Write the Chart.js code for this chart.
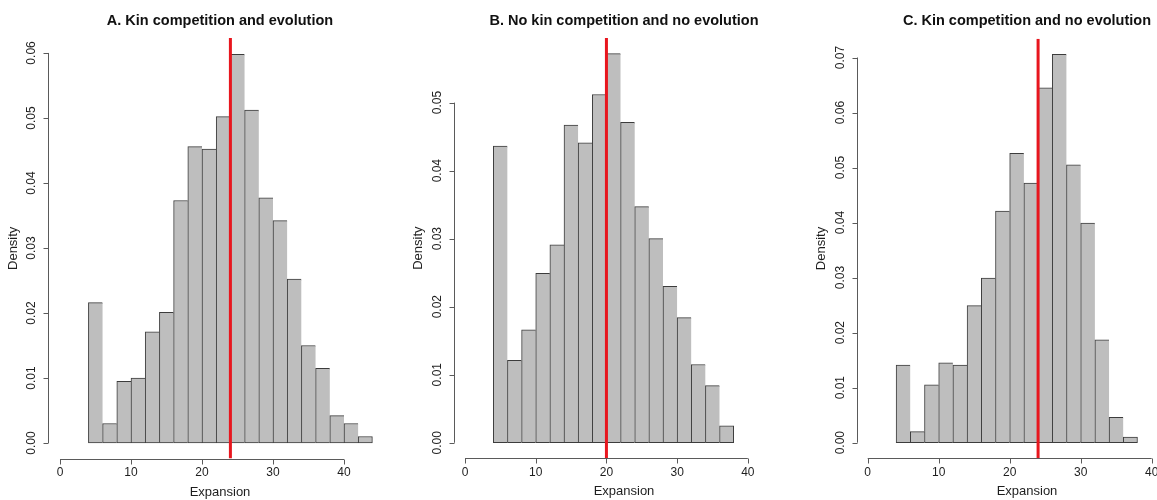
<!DOCTYPE html>
<html>
<head>
<meta charset="utf-8">
<script src="https://cdn.jsdelivr.net/npm/chart.js@4.4.1/dist/chart.umd.min.js"></script>
<style>
  html, body { margin: 0; padding: 0; background: #ffffff; overflow: hidden; }
  #wrap { position: relative; width: 1157px; height: 500px; background: #ffffff; }
  #wrap canvas { position: absolute; left: 0; top: 0; }
</style>
</head>
<body>
<div id="wrap">
  <canvas id="cA" width="1157" height="500" style="width:1157px;height:500px"></canvas>
  <canvas id="cB" width="1157" height="500" style="width:1157px;height:500px"></canvas>
  <canvas id="cC" width="1157" height="500" style="width:1157px;height:500px"></canvas>
</div>
<script>
// ---------------- DATA ----------------
// Panel A: Kin competition and evolution
const binEdgesA = [4, 6, 8, 10, 12, 14, 16, 18, 20, 22, 24, 26, 28, 30, 32, 34, 36, 38, 40, 42, 44];
const densityA  = [0.0216, 0.0030, 0.0095, 0.0100, 0.0171, 0.0201, 0.0373, 0.0456, 0.0452, 0.0502,
                   0.0598, 0.0512, 0.0377, 0.0342, 0.0252, 0.0150, 0.0115, 0.0042, 0.0030, 0.0010];
const vlineA = 24;

// Panel B: No kin competition and no evolution
const binEdgesB = [4, 6, 8, 10, 12, 14, 16, 18, 20, 22, 24, 26, 28, 30, 32, 34, 36, 38];
const densityB  = [0.0436, 0.0121, 0.0166, 0.0249, 0.0291, 0.0467, 0.0441, 0.0512, 0.0572, 0.0471,
                   0.0347, 0.0300, 0.0230, 0.0184, 0.0115, 0.0084, 0.0025];
const vlineB = 20;

// Panel C: Kin competition and no evolution
const binEdgesC = [4, 6, 8, 10, 12, 14, 16, 18, 20, 22, 24, 26, 28, 30, 32, 34, 36, 38];
const densityC  = [0.0141, 0.0020, 0.0105, 0.0145, 0.0141, 0.0249, 0.0299, 0.0421, 0.0526, 0.0472,
                   0.0645, 0.0706, 0.0505, 0.0399, 0.0187, 0.0046, 0.0010];
const vlineC = 24;

// Tick values and labels
const xTicks = [0, 10, 20, 30, 40];
const xTickLabels = ["0", "10", "20", "30", "40"];
const yTicksA = [0, 0.01, 0.02, 0.03, 0.04, 0.05, 0.06];
const yTickLabelsA = ["0.00", "0.01", "0.02", "0.03", "0.04", "0.05", "0.06"];
const yTicksB = [0, 0.01, 0.02, 0.03, 0.04, 0.05];
const yTickLabelsB = ["0.00", "0.01", "0.02", "0.03", "0.04", "0.05"];
const yTicksC = [0, 0.01, 0.02, 0.03, 0.04, 0.05, 0.06, 0.07];
const yTickLabelsC = ["0.00", "0.01", "0.02", "0.03", "0.04", "0.05", "0.06", "0.07"];

const titles = ["A. Kin competition and evolution",
                "B. No kin competition and no evolution",
                "C. Kin competition and no evolution"];
const xAxisTitle = "Expansion";
const yAxisTitle = "Density";

// ---------------- RENDERING ----------------
const FONT = '"Liberation Sans", Arial, Helvetica, sans-serif';

const rAxesPlugin = {
  id: 'rAxes',
  afterDraw(chart, args, o) {
    const ctx = chart.ctx;
    const ca = chart.chartArea;
    const xs = chart.scales.x, ys = chart.scales.y;
    ctx.save();
    ctx.strokeStyle = '#5a5a5a';
    ctx.lineWidth = 1;
    ctx.fillStyle = '#1e1e1e';

    // y axis (R style: line spans first..last tick)
    const ax = Math.round(ca.left) + 0.5;
    ctx.beginPath();
    ctx.moveTo(ax, ys.getPixelForValue(o.yTicks[0]));
    ctx.lineTo(ax, ys.getPixelForValue(o.yTicks[o.yTicks.length - 1]));
    o.yTicks.forEach(v => {
      const py = Math.round(ys.getPixelForValue(v)) + 0.5;
      ctx.moveTo(ax, py); ctx.lineTo(ax - 5, py);
    });
    ctx.stroke();

    ctx.font = '12px ' + FONT;
    ctx.textAlign = 'center';
    ctx.textBaseline = 'middle';
    o.yTicks.forEach((v, i) => {
      ctx.save();
      ctx.translate(ca.left - 16, ys.getPixelForValue(v));
      ctx.rotate(-Math.PI / 2);
      ctx.fillText(o.yTickLabels[i], 0, 0);
      ctx.restore();
    });

    // x axis
    const ay = Math.round(ca.bottom) + 0.5;
    ctx.beginPath();
    ctx.moveTo(xs.getPixelForValue(o.xTicks[0]), ay);
    ctx.lineTo(xs.getPixelForValue(o.xTicks[o.xTicks.length - 1]), ay);
    o.xTicks.forEach(v => {
      const px = Math.round(xs.getPixelForValue(v)) + 0.5;
      ctx.moveTo(px, ay); ctx.lineTo(px, ay + 5);
    });
    ctx.stroke();
    o.xTicks.forEach((v, i) => {
      ctx.fillText(o.xTickLabels[i], xs.getPixelForValue(v), ca.bottom + 14);
    });

    // axis titles
    ctx.font = '13px ' + FONT;
    ctx.fillText(o.xTitle, o.centerX, ca.bottom + 33.5);
    ctx.save();
    ctx.translate(ca.left - 35, (ca.top + ca.bottom) / 2);
    ctx.rotate(-Math.PI / 2);
    ctx.fillText(o.yTitle, 0, 0);
    ctx.restore();

    // main title
    ctx.font = 'bold 14.5px ' + FONT;
    ctx.fillStyle = '#111';
    ctx.fillText(o.title, o.centerX, 21);
    ctx.restore();
  }
};

function makePanel(cfg) {
  const n = cfg.dens.length;
  const bars = cfg.dens.map((d, i) => ({ x: (cfg.edges[i] + cfg.edges[i + 1]) / 2, y: d }));
  return new Chart(document.getElementById(cfg.id), {
    type: 'bar',
    data: {
      datasets: [
        {
          type: 'line',
          data: [{ x: cfg.vline, y: cfg.yMin }, { x: cfg.vline, y: cfg.yMax }],
          borderColor: '#e8161e',
          borderWidth: 3,
          pointRadius: 0,
          fill: false,
          order: 0
        },
        {
          type: 'bar',
          data: bars,
          backgroundColor: '#bebebe',
          borderColor: '#3c3c3c',
          borderSkipped: false,
          borderWidth: c => ({ top: 1, left: 1, bottom: 1, right: c.dataIndex === n - 1 ? 1 : 0 }),
          barPercentage: 1,
          categoryPercentage: 1,
          order: 1
        }
      ]
    },
    options: {
      responsive: false,
      animation: false,
      devicePixelRatio: 1,
      layout: { padding: cfg.pad },
      plugins: {
        legend: { display: false },
        tooltip: { enabled: false },
        title: { display: false },
        rAxes: {
          xTicks: xTicks, xTickLabels: xTickLabels,
          yTicks: cfg.yTicks, yTickLabels: cfg.yTickLabels,
          title: cfg.title, xTitle: xAxisTitle, yTitle: yAxisTitle,
          centerX: cfg.centerX
        }
      },
      scales: {
        x: { type: 'linear', min: cfg.xMin, max: cfg.xMax, offset: false, display: false },
        y: { type: 'linear', min: cfg.yMin, max: cfg.yMax, beginAtZero: false, display: false }
      }
    },
    plugins: [rAxesPlugin]
  });
}

makePanel({
  id: 'cA', edges: binEdgesA, dens: densityA, vline: vlineA,
  xMin: -1.69, xMax: 46.76, yMin: -0.0024, yMax: 0.0623,
  pad: { left: 48, right: 765, top: 38, bottom: 41.4 },
  yTicks: yTicksA, yTickLabels: yTickLabelsA, title: titles[0], centerX: 220
});
makePanel({
  id: 'cB', edges: binEdgesB, dens: densityB, vline: vlineB,
  xMin: -1.63, xMax: 46.6, yMin: -0.00229, yMax: 0.0595,
  pad: { left: 453.5, right: 362.5, top: 38, bottom: 41.7 },
  yTicks: yTicksB, yTickLabels: yTickLabelsB, title: titles[1], centerX: 624
});
makePanel({
  id: 'cC', edges: binEdgesC, dens: densityC, vline: vlineC,
  xMin: -1.55, xMax: 40.75, yMin: -0.00282, yMax: 0.0734,
  pad: { left: 856.7, right: 0, top: 38.8, bottom: 41.8 },
  yTicks: yTicksC, yTickLabels: yTickLabelsC, title: titles[2], centerX: 1027
});
</script>
</body>
</html>
